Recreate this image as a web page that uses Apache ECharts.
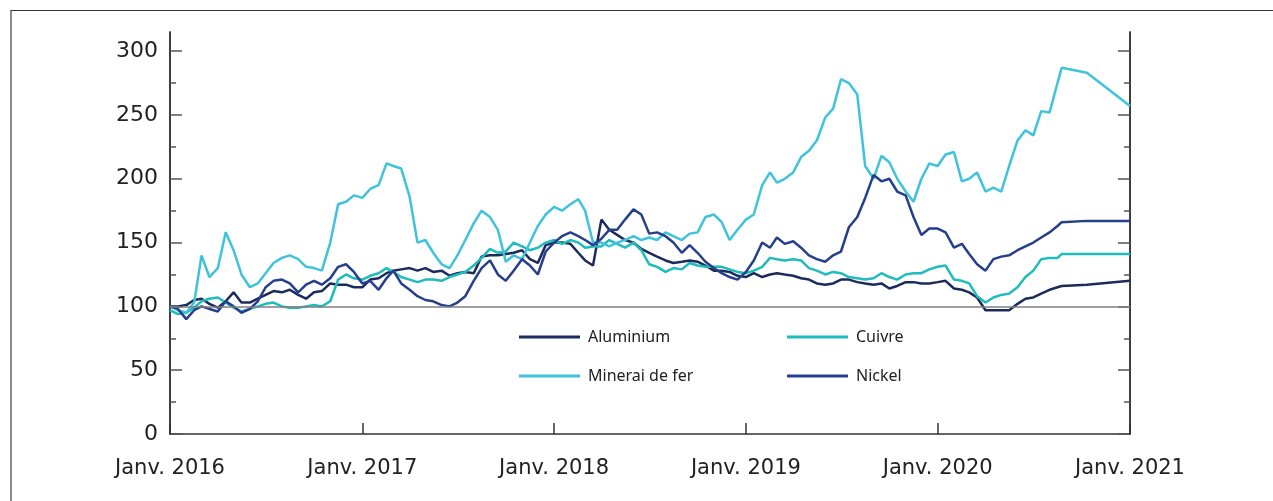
<!DOCTYPE html>
<html>
<head>
<meta charset="utf-8">
<script src="https://cdn.jsdelivr.net/npm/echarts@6/dist/echarts.min.js"></script>
<style>
body { margin: 0; background: #ffffff; }
.frame {
  position: absolute;
  left: 10px;
  top: 10px;
  width: 1300px;
  height: 600px;
  border-top: 1px solid #333333;
  border-left: 2px solid #8c8c8c;
}
#chart {
  position: absolute;
  left: 0;
  top: 0;
  width: 1273px;
  height: 501px;
}
</style>
</head>
<body>
<div class="frame"></div>
<div id="chart"></div>
<script>
// dates: half-month steps, then the flat tail to Jan 2021
const dates = [
  '2016-01-01', '2016-01-16', '2016-02-01', '2016-02-16', '2016-03-01', '2016-03-16', '2016-04-01', '2016-04-16', '2016-05-01', '2016-05-16', '2016-06-01', '2016-06-16',
  '2016-07-01', '2016-07-16', '2016-08-01', '2016-08-16', '2016-09-01', '2016-09-16', '2016-10-01', '2016-10-16', '2016-11-01', '2016-11-16', '2016-12-01', '2016-12-16',
  '2017-01-01', '2017-01-16', '2017-02-01', '2017-02-16', '2017-03-01', '2017-03-16', '2017-04-01', '2017-04-16', '2017-05-01', '2017-05-16', '2017-06-01', '2017-06-16',
  '2017-07-01', '2017-07-16', '2017-08-01', '2017-08-16', '2017-09-01', '2017-09-16', '2017-10-01', '2017-10-16', '2017-11-01', '2017-11-16', '2017-12-01', '2017-12-16',
  '2018-01-01', '2018-01-16', '2018-02-01', '2018-02-16', '2018-03-01', '2018-03-16', '2018-04-01', '2018-04-16', '2018-05-01', '2018-05-16', '2018-06-01', '2018-06-16',
  '2018-07-01', '2018-07-16', '2018-08-01', '2018-08-16', '2018-09-01', '2018-09-16', '2018-10-01', '2018-10-16', '2018-11-01', '2018-11-16', '2018-12-01', '2018-12-16',
  '2019-01-01', '2019-01-16', '2019-02-01', '2019-02-16', '2019-03-01', '2019-03-16', '2019-04-01', '2019-04-16', '2019-05-01', '2019-05-16', '2019-06-01', '2019-06-16',
  '2019-07-01', '2019-07-16', '2019-08-01', '2019-08-16', '2019-09-01', '2019-09-16', '2019-10-01', '2019-10-16', '2019-11-01', '2019-11-16', '2019-12-01', '2019-12-16',
  '2020-01-01', '2020-01-16', '2020-02-01', '2020-02-16', '2020-03-01', '2020-03-16', '2020-04-01', '2020-04-16', '2020-05-01', '2020-05-16', '2020-06-01', '2020-06-16',
  '2020-07-01', '2020-07-16', '2020-08-01', '2020-08-16',
  '2020-08-24', '2020-10-11', '2021-01-01'
]

const aluminium = [
  100, 100, 101, 105, 106, 102, 99, 104, 111, 103, 103, 106,
  109, 112, 111, 113, 109, 106, 111, 112, 118, 117, 117, 115,
  115, 121, 122, 126, 128, 129, 130, 128, 130, 127, 128, 124,
  126, 127, 126, 139, 140, 140, 141, 142, 144, 137, 134, 148,
  150, 150, 149, 142, 136, 132, 168, 160, 156, 152, 150, 145,
  142, 139, 136, 134, 135, 136, 135, 132, 128, 128, 127, 124,
  123, 126, 123, 125, 126, 125, 124, 122, 121, 118, 117, 118,
  121, 121, 119, 118, 117, 118, 114, 116, 119, 119, 118, 118,
  119, 120, 114, 113, 111, 107, 97, 97, 97, 97, 102, 106,
  107, 110, 113, 115,
  116, 117, 120
]

const cuivre = [
  97, 94, 95, 99, 104, 106, 107, 103, 99, 96, 98, 100,
  102, 103, 100, 99, 99, 100, 101, 100, 104, 121, 125, 122,
  121, 124, 126, 130, 127, 123, 121, 119, 121, 121, 120, 123,
  125, 127, 132, 138, 145, 142, 143, 150, 147, 144, 146, 150,
  152, 149, 152, 150, 146, 147, 147, 152, 149, 146, 150, 144,
  133, 131, 127, 130, 129, 134, 132, 131, 131, 131, 129, 127,
  126, 128, 131, 138, 137, 136, 137, 136, 130, 128, 125, 127,
  126, 123, 122, 121, 122, 126, 123, 121, 125, 126, 126, 129,
  131, 132, 121, 120, 118, 108, 103, 107, 109, 110, 115, 123,
  128, 137, 138, 138,
  141, 141, 141
]

const minerai = [
  100, 97, 95, 103, 140, 123, 130, 158, 144, 125, 115, 118,
  126, 134, 138, 140, 137, 131, 130, 128, 150, 180, 182, 187,
  185, 192, 195, 212, 210, 208, 186, 150, 152, 142, 133, 130,
  140, 152, 165, 175, 170, 160, 135, 140, 137, 150, 163, 172,
  178, 175, 180, 184, 175, 150, 150, 147, 150, 152, 155, 152,
  154, 152, 158, 155, 152, 157, 158, 170, 172, 166, 152, 160,
  168, 172, 195, 205, 197, 200, 205, 217, 222, 230, 248, 255,
  278, 275, 266, 210, 200, 218, 213, 200, 190, 182, 200, 212,
  210, 219, 221, 198, 200, 205, 190, 193, 190, 210, 230, 238,
  234, 253, 252, 275,
  287, 283, 257
]

const nickel = [
  100, 98, 90, 97, 100, 98, 96, 104, 100, 95, 98, 104,
  115, 120, 121, 118, 111, 117, 120, 117, 122, 131, 133, 127,
  118, 120, 113, 122, 128, 118, 113, 108, 105, 104, 101, 100,
  103, 108, 120, 130, 136, 125, 120, 128, 137, 132, 125, 143,
  150, 155, 158, 155, 152, 148, 153, 160, 160, 168, 176, 172,
  157, 158, 155, 150, 142, 148, 142, 135, 130, 126, 123, 121,
  127, 136, 150, 146, 154, 149, 151, 146, 140, 137, 135, 140,
  143, 162, 170, 185, 203, 198, 200, 190, 187, 170, 156, 161,
  161, 158, 146, 149, 141, 133, 128, 137, 139, 140, 144, 147,
  150, 154, 158, 163,
  166, 167, 167
]

const yearTicks = [2016, 2017, 2018, 2019, 2020, 2021]
const yMajor = [0, 50, 100, 150, 200, 250, 300]
const yMinor = [25, 75, 125, 175, 225, 275]

const chart = echarts.init(document.getElementById('chart'))

const axisFont = 'DejaVu Sans'
const lineColor = '#333333'
const yearValues = yearTicks.map(y => Date.UTC(y, 0, 1))

function pairs (values) {
  return dates.map((d, i) => [Date.parse(d), values[i]])
}

function yAxisPart (position, ticks, len, labels) {
  return {
    type: 'value',
    position: position,
    min: 0,
    max: 315,
    splitLine: { show: false },
    axisLine: { show: true, lineStyle: { color: lineColor, width: 1.5 } },
    axisTick: {
      show: true,
      inside: true,
      length: len,
      customValues: ticks,
      lineStyle: { color: '#555555', width: 1.5 }
    },
    axisLabel: {
      show: labels,
      customValues: ticks,
      margin: 12,
      fontFamily: axisFont,
      fontSize: 22,
      color: '#222222'
    }
  }
}

function legendAt (name, left, top) {
  return {
    data: [name],
    left: left,
    top: top,
    icon: 'rect',
    itemWidth: 61,
    itemHeight: 3,
    selectedMode: false,
    textStyle: {
      fontFamily: 'Noto Sans',
      fontSize: 16,
      color: '#222222',
      padding: [0, 0, 0, 3]
    }
  }
}

const option = {
  animation: false,
  backgroundColor: 'transparent',
  grid: { left: 170, right: 143, top: 32, bottom: 67 },
  legend: [
    legendAt('Aluminium', 514, 324),
    legendAt('Cuivre', 782, 324),
    legendAt('Minerai de fer', 514, 363),
    legendAt('Nickel', 782, 363)
  ],
  xAxis: {
    type: 'value',
    min: yearValues[0],
    max: yearValues[yearValues.length - 1],
    splitLine: { show: false },
    axisLine: { lineStyle: { color: lineColor, width: 1.5 } },
    axisTick: {
      show: true,
      inside: true,
      length: 11,
      customValues: yearValues,
      lineStyle: { color: lineColor, width: 1.5 }
    },
    axisLabel: {
      customValues: yearValues,
      margin: 24,
      fontFamily: axisFont,
      fontSize: 21,
      color: '#222222',
      formatter: function (v) {
        return 'Janv. ' + new Date(v).getUTCFullYear()
      }
    }
  },
  yAxis: [
    yAxisPart('left', yMajor, 12, true),
    yAxisPart('left', yMinor, 6, false),
    yAxisPart('right', yMajor, 12, false),
    yAxisPart('right', yMinor, 6, false)
  ],
  series: [
    {
      name: 'Aluminium',
      type: 'line',
      color: '#1c2b5c',
      showSymbol: false,
      symbol: 'none',
      lineStyle: { width: 2.5 },
      data: pairs(aluminium),
      markLine: {
        silent: true,
        symbol: 'none',
        label: { show: false },
        lineStyle: { color: '#7f7f7f', width: 1.5, type: 'solid' },
        data: [{ yAxis: 100 }]
      }
    },
    {
      name: 'Cuivre',
      type: 'line',
      color: '#1fbcbc',
      showSymbol: false,
      symbol: 'none',
      lineStyle: { width: 2.5 },
      data: pairs(cuivre)
    },
    {
      name: 'Minerai de fer',
      type: 'line',
      color: '#3fc3dc',
      showSymbol: false,
      symbol: 'none',
      lineStyle: { width: 2.5 },
      data: pairs(minerai)
    },
    {
      name: 'Nickel',
      type: 'line',
      color: '#263f8c',
      showSymbol: false,
      symbol: 'none',
      lineStyle: { width: 2.5 },
      data: pairs(nickel)
    }
  ]
}
chart.setOption(option)
</script>
</body>
</html>
